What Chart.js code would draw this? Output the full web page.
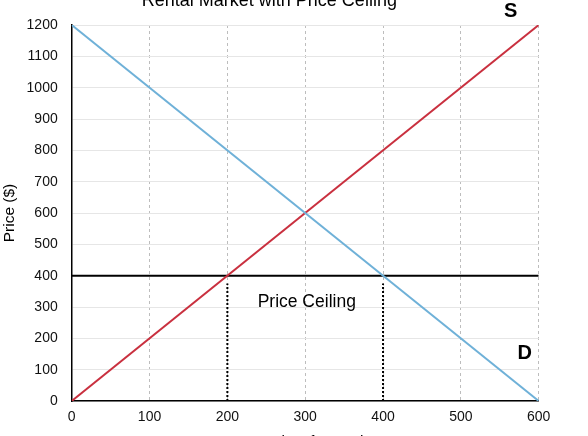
<!DOCTYPE html>
<html>
<head>
<meta charset="utf-8">
<script src="https://cdn.jsdelivr.net/npm/chart.js@4.4.1/dist/chart.umd.min.js"></script>
<style>
  html, body { margin: 0; padding: 0; background: #fff; overflow: hidden; }
  #wrap { position: absolute; left: 0; top: -20px; width: 588px; height: 472px; }
</style>
</head>
<body>
<div id="wrap"><canvas id="c" width="588" height="472"></canvas></div>
<script>
// ---- data ----
const quantityTicks = [0, 100, 200, 300, 400, 500, 600];
const priceTicks = [0, 100, 200, 300, 400, 500, 600, 700, 800, 900, 1000, 1100, 1200];
const demandQ = [0, 600];
const demandP = [1200, 0];
const supplyQ = [0, 600];
const supplyP = [0, 1200];
const ceilingQ = [0, 600];
const ceilingP = [400, 400];
const qSuppliedQ = [200, 200];
const qDemandedQ = [400, 400];
const dropP = [0, 375];
const textLabels = ['S', 'D', 'Price Ceiling'];
const textQ = [564, 582, 302];
const textP = [1242, 152, 316];

const pts = (xs, ys) => xs.map((x, i) => ({ x: x, y: ys[i] }));

const FONT = '"Liberation Sans", Arial, Helvetica, sans-serif';

const labelPlugin = {
  id: 'textLabels',
  afterDatasetsDraw(chart) {
    const { ctx, scales: { x, y } } = chart;
    ctx.save();
    ctx.fillStyle = '#000';
    ctx.textAlign = 'center';
    ctx.textBaseline = 'middle';
    textLabels.forEach((t, i) => {
      const bold = t.length === 1;
      ctx.font = (bold ? 'bold 20px ' : '17.5px ') + FONT;
      ctx.fillText(t, x.getPixelForValue(textQ[i]), y.getPixelForValue(textP[i]));
    });
    ctx.restore();
  }
};

new Chart(document.getElementById('c'), {
  type: 'line',
  data: {
    datasets: [
      { label: 'Demand', data: pts(demandQ, demandP), borderColor: '#6fb1d8', borderWidth: 2, pointRadius: 0 },
      { label: 'Supply', data: pts(supplyQ, supplyP), borderColor: '#c9303f', borderWidth: 2, pointRadius: 0 },
      { label: 'Price Ceiling', data: pts(ceilingQ, ceilingP), borderColor: '#000', borderWidth: 2, pointRadius: 0 },
      { label: 'Qs', data: pts(qSuppliedQ, dropP), borderColor: '#000', borderWidth: 2, borderDash: [2, 2], pointRadius: 0 },
      { label: 'Qd', data: pts(qDemandedQ, dropP), borderColor: '#000', borderWidth: 2, borderDash: [2, 2], pointRadius: 0 }
    ]
  },
  options: {
    responsive: false,
    animation: false,
    events: [],
    layout: { padding: { left: 0, right: 49.3, top: 0, bottom: 0 } },
    plugins: {
      legend: { display: false },
      tooltip: { enabled: false },
      title: {
        display: true,
        text: 'Rental Market with Price Ceiling',
        color: '#000',
        font: { family: FONT, size: 18, weight: 'normal' },
        padding: { top: 10.5, bottom: 12.9 }
      }
    },
    scales: {
      x: {
        type: 'linear',
        min: 0, max: 600,
        afterBuildTicks(s) { s.ticks = quantityTicks.map(v => ({ value: v })); },
        afterFit(s) { s.height = 51; },
        ticks: { color: '#111', font: { family: FONT, size: 14 }, padding: 8, callback: v => String(v) },
        grid: { color: '#bdbdbd', lineWidth: 1, drawTicks: false },
        border: { display: true, color: '#000', width: 1.5, dash: [3, 3] },
        title: {
          display: true,
          text: 'Quantity of Rentals',
          color: '#000',
          font: { family: FONT, size: 15.5 },
          padding: { top: 0, bottom: 1 }
        }
      },
      y: {
        type: 'linear',
        min: 0, max: 1200,
        afterBuildTicks(s) { s.ticks = priceTicks.map(v => ({ value: v })); },
        afterFit(s) { s.width = 71.7; },
        ticks: { color: '#111', font: { family: FONT, size: 14 }, padding: 14, callback: v => String(v) },
        grid: { color: '#e6e6e6', lineWidth: 1, drawTicks: false },
        border: { display: true, color: '#000', width: 1.5 },
        title: {
          display: true,
          text: 'Price ($)',
          color: '#000',
          font: { family: FONT, size: 15.5 },
          padding: { top: 0, bottom: 0 }
        }
      }
    }
  },
  plugins: [labelPlugin]
});
</script>
</body>
</html>
